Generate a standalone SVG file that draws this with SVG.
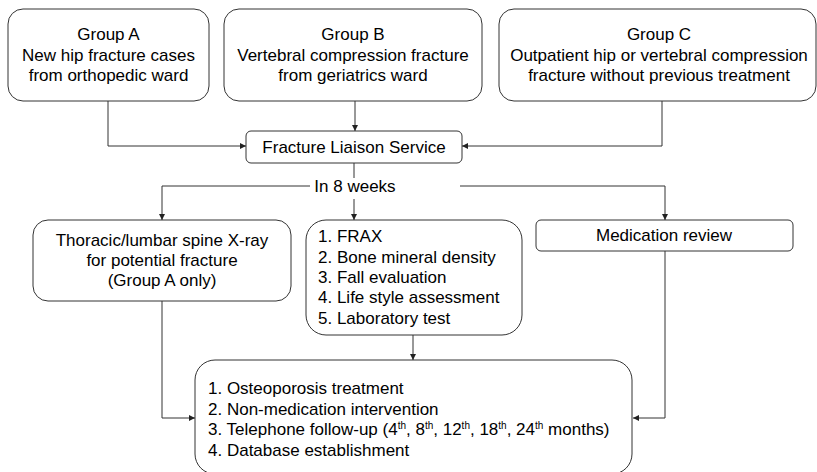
<svg xmlns="http://www.w3.org/2000/svg" width="817" height="472" viewBox="0 0 817 472">
<style>
.box{fill:#fff;stroke:#333;stroke-width:1}
.t{font-family:"Liberation Sans",Arial,sans-serif;font-size:17px;fill:#000}
.c{text-anchor:middle}
.ln{fill:none;stroke:#333;stroke-width:1}
.sup{font-size:10px}
</style>
<defs>
<marker id="ah" viewBox="0 0 10 10" refX="10" refY="5" markerWidth="6" markerHeight="6" markerUnits="userSpaceOnUse" orient="auto">
<path d="M0,0 L10,5 L0,10 Z" fill="#222"/>
</marker>
</defs>
<rect width="817" height="472" fill="#fff"/>
<g id="connectors">
<path class="ln" d="M108,101 V146 H246" marker-end="url(#ah)"/>
<path class="ln" d="M355,101 V131" marker-end="url(#ah)"/>
<path class="ln" d="M662,101 V146 H462" marker-end="url(#ah)"/>
<path class="ln" d="M354,163 V178"/>
<path class="ln" d="M310,186 H162 V220" marker-end="url(#ah)"/>
<path class="ln" d="M354,199 V220" marker-end="url(#ah)"/>
<path class="ln" d="M460,186 H665 V220" marker-end="url(#ah)"/>
<path class="ln" d="M162,301 V418 H195" marker-end="url(#ah)"/>
<path class="ln" d="M413,335 V360" marker-end="url(#ah)"/>
<path class="ln" d="M665,251 V418 H633" marker-end="url(#ah)"/>
<text class="t c" x="355" y="192">In 8 weeks</text>
</g>
<g id="groupA">
<rect class="box" x="8" y="9" width="201" height="92" rx="15"/>
<text class="t c" x="108.5" y="40">Group A</text>
<text class="t c" x="108.5" y="60.5">New hip fracture cases</text>
<text class="t c" x="108.5" y="81">from orthopedic ward</text>
</g>
<g id="groupB">
<rect class="box" x="224" y="9" width="258" height="92" rx="15"/>
<text class="t c" x="353" y="40">Group B</text>
<text class="t c" x="353" y="60.5">Vertebral compression fracture</text>
<text class="t c" x="353" y="81">from geriatrics ward</text>
</g>
<g id="groupC">
<rect class="box" x="499" y="9" width="317" height="92" rx="15"/>
<text class="t c" x="659" y="40">Group C</text>
<text class="t c" x="659" y="60.5">Outpatient hip or vertebral compression</text>
<text class="t c" x="659" y="81">fracture without previous treatment</text>
</g>
<g id="fls">
<rect class="box" x="246" y="131" width="216" height="32" rx="5"/>
<text class="t c" x="354" y="153">Fracture Liaison Service</text>
</g>
<g id="xray">
<rect class="box" x="33" y="220" width="258" height="81" rx="15"/>
<text class="t c" x="162" y="246">Thoracic/lumbar spine X-ray</text>
<text class="t c" x="162" y="266">for potential fracture</text>
<text class="t c" x="162" y="286">(Group A only)</text>
</g>
<g id="assessment">
<rect class="box" x="306" y="220" width="216" height="115" rx="20"/>
<text class="t" x="318" y="242">1. FRAX</text>
<text class="t" x="318" y="262.5">2. Bone mineral density</text>
<text class="t" x="318" y="283">3. Fall evaluation</text>
<text class="t" x="318" y="303">4. Life style assessment</text>
<text class="t" x="318" y="323.5">5. Laboratory test</text>
</g>
<g id="medication">
<rect class="box" x="536" y="220" width="257" height="31" rx="5"/>
<text class="t c" x="664" y="241">Medication review</text>
</g>
<g id="outcome">
<rect class="box" x="195" y="360" width="437" height="114" rx="20"/>
<text class="t" x="208" y="394">1. Osteoporosis treatment</text>
<text class="t" x="208" y="414.5">2. Non-medication intervention</text>
<text class="t" x="208" y="435">3. Telephone follow-up (4<tspan class="sup" dy="-6">th</tspan><tspan dy="6">, 8</tspan><tspan class="sup" dy="-6">th</tspan><tspan dy="6">, 12</tspan><tspan class="sup" dy="-6">th</tspan><tspan dy="6">, 18</tspan><tspan class="sup" dy="-6">th</tspan><tspan dy="6">, 24</tspan><tspan class="sup" dy="-6">th</tspan><tspan dy="6"> months)</tspan></text>
<text class="t" x="208" y="455.5">4. Database establishment</text>
</g>
</svg>
